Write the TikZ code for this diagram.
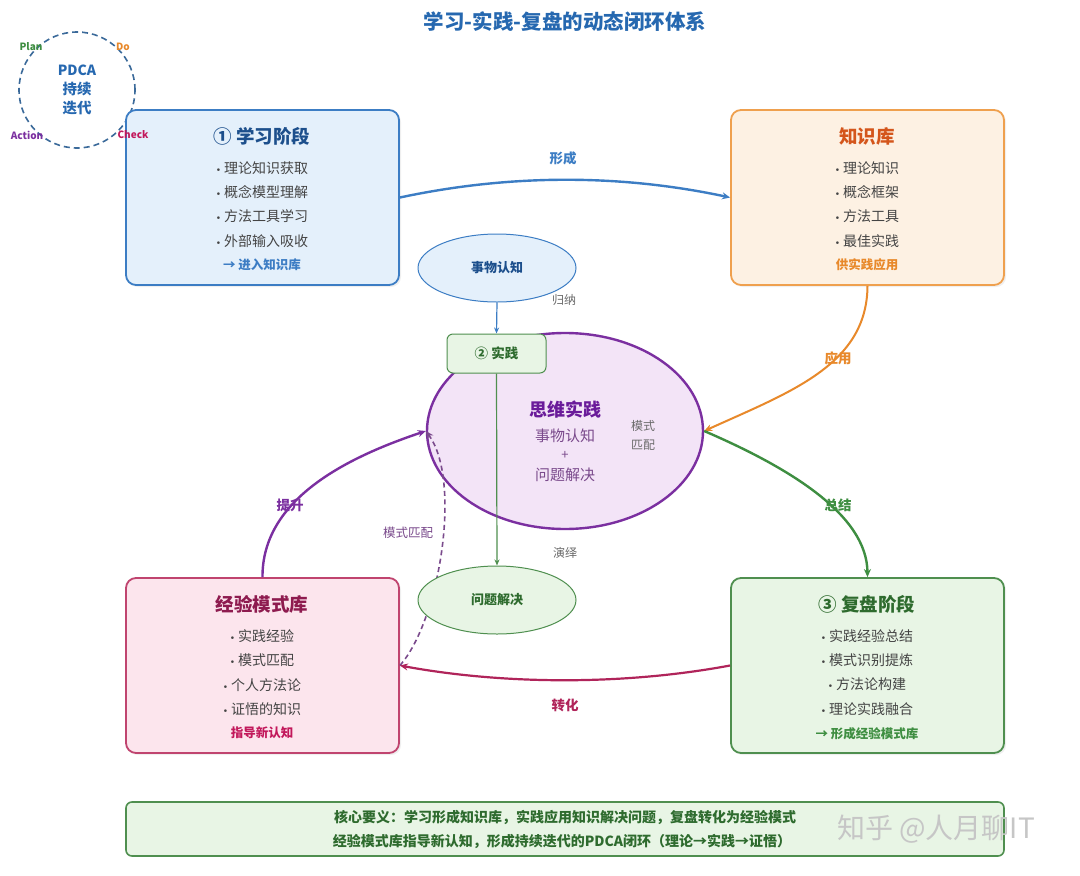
\documentclass[tikz,border=0pt]{standalone}
\usepackage{fontspec}
\setmainfont{Noto Sans CJK SC}
\newfontfamily\dejavu{DejaVu Sans}
\usetikzlibrary{arrows.meta,shapes.geometric,shadows,backgrounds}
\definecolor{titleblue}{HTML}{2668B0}
\definecolor{blueB}{HTML}{3C7DC4}
\definecolor{blueF}{HTML}{E4F0FB}
\definecolor{blueT}{HTML}{1C4F8C}
\definecolor{orangeB}{HTML}{EFA04E}
\definecolor{orangeF}{HTML}{FDF1E3}
\definecolor{orangeT}{HTML}{D4561C}
\definecolor{orangeL}{HTML}{E8892B}
\definecolor{greenB}{HTML}{4F8F4F}
\definecolor{greenF}{HTML}{E8F5E5}
\definecolor{greenT}{HTML}{2E6B2E}
\definecolor{greenL}{HTML}{3E8E41}
\definecolor{pinkB}{HTML}{C0446F}
\definecolor{pinkF}{HTML}{FCE5ED}
\definecolor{pinkT}{HTML}{8E1B4F}
\definecolor{pinkL}{HTML}{C2185B}
\definecolor{crimson}{HTML}{B0245A}
\definecolor{purpleB}{HTML}{7B2FA0}
\definecolor{purpleF}{HTML}{F3E4F7}
\definecolor{purpleT}{HTML}{6A1B9A}
\definecolor{purpleS}{HTML}{7A4A8C}
\definecolor{itemgray}{HTML}{444444}
\definecolor{labelgray}{HTML}{6A6A6A}
\definecolor{pdcaB}{HTML}{3B6A9A}
\newcommand{\bul}{{\dejavu\fontsize{9}{9}\selectfont •}\hspace{3pt}}
\tikzset{
  stagebox/.style={draw, rounded corners=10pt, line width=1.8pt, minimum width=273pt, minimum height=175pt,
    drop shadow={opacity=0.12, shadow xshift=2pt, shadow yshift=-2pt}},
  smallell/.style={ellipse, draw, line width=1pt, minimum width=158pt, minimum height=68pt, inner sep=0pt},
  itemtxt/.style={font=\fontsize{14}{16}\selectfont, text=itemgray},
  boxtitle/.style={font=\fontsize{18.5}{22}\selectfont\bfseries},
  boxfoot/.style={font=\fontsize{12.5}{15}\selectfont\bfseries},
  arrlabel/.style={font=\fontsize{13.5}{16}\selectfont\bfseries},
  graylabel/.style={font=\fontsize{12}{14}\selectfont, text=labelgray},
  tip/.style={-{Stealth[length=8pt,width=7pt]}},
  smalltip/.style={-{Stealth[length=6pt,width=5pt]}},
}
\begin{document}
\begin{tikzpicture}[x=1pt,y=-1pt]
\useasboundingbox (0,0) rectangle (1080,876);
\begin{scope}[on background layer]
\fill[white] (0,0) rectangle (1080,876);
\end{scope}

% title
\node[font=\fontsize{20.5}{24}\selectfont\bfseries, text=titleblue] (title) at (565,22) {学习-实践-复盘的动态闭环体系};

% PDCA circle
\node[circle, draw=pdcaB, line width=1.6pt, dash pattern=on 6pt off 4pt, minimum size=116pt] (pdca) at (77,90) {};
\node[font=\fontsize{14}{16}\selectfont\bfseries, text=titleblue] (pdcat) at (77,70) {PDCA};
\node[font=\fontsize{14.5}{17}\selectfont\bfseries, text=titleblue] (pdcac1) at (77,89) {持续};
\node[font=\fontsize{14.5}{17}\selectfont\bfseries, text=titleblue] (pdcac2) at (77,108) {迭代};

% stage boxes
\node[stagebox, draw=blueB, fill=blueF] (learn) at (262.5,197.5) {};
\node[stagebox, draw=orangeB, fill=orangeF] (know) at (867.5,197.5) {};
\node[stagebox, draw=greenB, fill=greenF] (review) at (867.5,665.5) {};
\node[stagebox, draw=pinkB, fill=pinkF] (exp) at (262.5,665.5) {};

% PDCA labels (on top of boxes)
\node[font=\fontsize{10}{12}\selectfont\bfseries, text=greenL] (plan) at (31,47) {Plan};
\node[font=\fontsize{10}{12}\selectfont\bfseries, text=orangeL] (do) at (123,47) {Do};
\node[font=\fontsize{10}{12}\selectfont\bfseries, text=purpleB] (act) at (27,135) {Action};
\node[font=\fontsize{10}{12}\selectfont\bfseries, text=pinkL] (chk) at (133,135) {Check};

% learning box text
\node[boxtitle, text=blueT] (lt) at (262,136) {① 学习阶段};
\node[itemtxt] (l1) at (262,168) {\bul 理论知识获取};
\node[itemtxt] (l2) at (262,192) {\bul 概念模型理解};
\node[itemtxt] (l3) at (262,216) {\bul 方法工具学习};
\node[itemtxt] (l4) at (262,241) {\bul 外部输入吸收};
\node[boxfoot, text=blueB] (lf) at (262,265) {→ 进入知识库};

% knowledge box text
\node[boxtitle, text=orangeT] (kt) at (867,136) {知识库};
\node[itemtxt] (k1) at (867,168) {\bul 理论知识};
\node[itemtxt] (k2) at (867,192) {\bul 概念框架};
\node[itemtxt] (k3) at (867,216) {\bul 方法工具};
\node[itemtxt] (k4) at (867,241) {\bul 最佳实践};
\node[boxfoot, text=orangeL] (kf) at (867,265) {供实践应用};

% review box text
\node[boxtitle, text=greenT] (rt) at (867,604) {③ 复盘阶段};
\node[itemtxt] (r1) at (867,636) {\bul 实践经验总结};
\node[itemtxt] (r2) at (867,660) {\bul 模式识别提炼};
\node[itemtxt] (r3) at (867,684) {\bul 方法论构建};
\node[itemtxt] (r4) at (867,709) {\bul 理论实践融合};
\node[boxfoot, text=greenL] (rf) at (867,734) {→ 形成经验模式库};

% experience box text
\node[boxtitle, text=pinkT] (et) at (262,604) {经验模式库};
\node[itemtxt] (e1) at (262,636) {\bul 实践经验};
\node[itemtxt] (e2) at (262,660) {\bul 模式匹配};
\node[itemtxt] (e3) at (262,685) {\bul 个人方法论};
\node[itemtxt] (e4) at (262,709) {\bul 证悟的知识};
\node[boxfoot, text=pinkL] (ef) at (262,733) {指导新认知};

% central ellipse
\node[ellipse, draw=purpleB, fill=purpleF, line width=2.4pt, minimum width=276pt, minimum height=196pt, inner sep=0pt] (big) at (565,431) {};
\node[font=\fontsize{18}{21}\selectfont\bfseries, text=purpleT] (bt) at (565,410) {思维实践};
\node[font=\fontsize{15}{18}\selectfont, text=purpleS] (b1) at (565,436) {事物认知};
\node[font=\fontsize{13}{15}\selectfont, text=purpleS] (b2) at (565,455) {+};
\node[font=\fontsize{15}{18}\selectfont, text=purpleS] (b3) at (565,475) {问题解决};
\node[graylabel, align=center, font=\fontsize{12}{19}\selectfont] (mm) at (643,435) {模式\\匹配};

% dashed pattern-matching link: above the big ellipse, below the small one
\draw[purpleS, line width=1.6pt, dash pattern=on 5pt off 3.5pt, tip] (exp.east) .. controls (440,620) and (462,480) .. (big.west);
\node[font=\fontsize{12.5}{15}\selectfont, text=purpleS] (mml) at (408,533) {模式匹配};

% practice box
\node[draw=greenB, fill=greenF, rounded corners=6pt, line width=1pt, minimum width=99pt, minimum height=39pt,
  font=\fontsize{13.5}{16}\selectfont\bfseries, text=greenT] (prac) at (496.5,353.5) {② 实践};

% small ellipses
\node[smallell, draw=blueB, fill=blueF, font=\fontsize{13}{15}\selectfont\bfseries, text=blueT] (cog) at (497,268) {事物认知};
\node[smallell, draw=greenB, fill=greenF, font=\fontsize{13}{15}\selectfont\bfseries, text=greenT] (solve) at (497,600) {问题解决};

% gray labels
\node[graylabel] (gn) at (564,300) {归纳};
\node[graylabel] (yy) at (565,553) {演绎};

% connectors
\draw[blueB, line width=2.4pt, tip] (learn.east) .. controls (510,174) and (620,174) .. (know.west);
\node[arrlabel, text=blueB] (xc) at (563,158) {形成};

\draw[orangeL, line width=2pt, tip] (know.south) .. controls (867,365) and (790,392) .. (big.east);
\node[arrlabel, text=orangeL] (yyl) at (838,358) {应用};

\draw[greenL, line width=2.4pt, tip] (big.east) .. controls (790,468) and (867,515) .. (review.north);
\node[arrlabel, text=greenL] (zj) at (838,505) {总结};

\draw[crimson, line width=2.2pt, tip] (review.west) .. controls (620,686) and (500,684) .. (exp.east);
\node[arrlabel, text=crimson] (zh) at (565,705) {转化};

\draw[purpleB, line width=2.4pt, tip] (exp.north) .. controls (262,500) and (345,458) .. (big.west);
\node[arrlabel, text=purpleB] (ts) at (290,505) {提升};

\draw[blueB, line width=1.2pt, smalltip] (cog.south) -- (prac.north);
\draw[greenB, line width=1.2pt, smalltip] (prac.south) -- (solve.north);

% bottom summary
\node[draw=greenB, fill=greenF, rounded corners=6pt, line width=1.6pt, minimum width=878pt, minimum height=54pt] (sum) at (565,829) {};
\node[font=\fontsize{14}{16}\selectfont\bfseries, text=greenT] (s1) at (565,817) {核心要义：学习形成知识库，实践应用知识解决问题，复盘转化为经验模式};
\node[font=\fontsize{14}{16}\selectfont\bfseries, text=greenT] (s2) at (562,841) {经验模式库指导新认知，形成持续迭代的PDCA闭环（理论→实践→证悟）};

% watermark
\node[font=\fontsize{28}{32}\selectfont, text=gray!45] (wm) at (936,829) {知乎 @人月聊IT};
\end{tikzpicture}
\end{document}
